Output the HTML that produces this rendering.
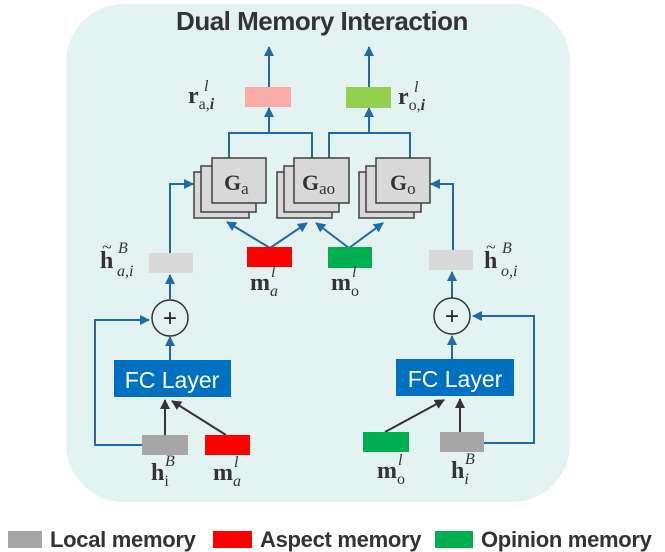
<!DOCTYPE html>
<html><head><meta charset="utf-8"><style>
html,body{margin:0;padding:0;background:#fff;}
svg{display:block;}
.m{font-family:"Liberation Serif",serif;fill:#333;}
.t{font-family:"Liberation Sans",sans-serif;font-weight:bold;fill:#333;}
</style></head><body>
<svg width="665" height="552" viewBox="0 0 665 552" xmlns="http://www.w3.org/2000/svg">
<defs>
<marker id="ab" markerWidth="10" markerHeight="10" refX="9" refY="5" orient="auto" markerUnits="userSpaceOnUse">
<path d="M0,0 L10,5 L0,10 z" fill="#1f6aa8"/></marker>
<marker id="ak" markerWidth="10" markerHeight="10" refX="9" refY="5" orient="auto" markerUnits="userSpaceOnUse">
<path d="M0,0 L10,5 L0,10 z" fill="#333"/></marker>
</defs>
<rect x="66" y="4" width="504" height="498" rx="58" fill="#e3f3f2"/>
<text x="322" y="30" text-anchor="middle" class="t" font-size="26" letter-spacing="-0.5">Dual Memory Interaction</text>

<g stroke="#1f6aa8" stroke-width="2" fill="none">
<line x1="269" y1="87" x2="269" y2="47" marker-end="url(#ab)"/>
<line x1="369" y1="87" x2="369" y2="47" marker-end="url(#ab)"/>
<polyline points="229,158 229,133 312,133 312,158"/>
<line x1="269" y1="133" x2="269" y2="108" marker-end="url(#ab)"/>
<polyline points="329,158 329,133 410,133 410,158"/>
<line x1="369" y1="133" x2="369" y2="108" marker-end="url(#ab)"/>
<line x1="270" y1="248" x2="227" y2="222" marker-end="url(#ab)"/>
<line x1="270" y1="248" x2="307" y2="223" marker-end="url(#ab)"/>
<line x1="349" y1="248" x2="316" y2="223" marker-end="url(#ab)"/>
<line x1="349" y1="248" x2="383" y2="223" marker-end="url(#ab)"/>
<polyline points="170,253 170,184 193,184" marker-end="url(#ab)"/>
<polyline points="453,250 453,184 431,184" marker-end="url(#ab)"/>
<line x1="170" y1="360" x2="170" y2="337" marker-end="url(#ab)"/>
<line x1="170" y1="299" x2="170" y2="275" marker-end="url(#ab)"/>
<line x1="452" y1="359" x2="452" y2="336" marker-end="url(#ab)"/>
<line x1="452" y1="298" x2="452" y2="272" marker-end="url(#ab)"/>
<polyline points="143,445 95,445 95,320 149,320" marker-end="url(#ab)"/>
<polyline points="484,443 534,443 534,316 473,316" marker-end="url(#ab)"/>
</g>

<rect x="245" y="87" width="46" height="20" fill="#f9aba6"/>
<rect x="346" y="87" width="45" height="21" fill="#92d050"/>

<g stroke="#404040" stroke-width="1.5" fill="#d9d9d9">
<rect x="194" y="172" width="55" height="46"/><rect x="201" y="166" width="55" height="46"/><rect x="212" y="158" width="54" height="45"/>
<rect x="277" y="172" width="55" height="46"/><rect x="284" y="166" width="55" height="46"/><rect x="294" y="158" width="55" height="45"/>
<rect x="359" y="172" width="55" height="46"/><rect x="366" y="166" width="55" height="46"/><rect x="376" y="158" width="54" height="45"/>
</g>
<text x="224" y="190" class="m" font-size="22" font-weight="bold">G<tspan font-size="17" font-weight="normal" dy="4">a</tspan></text>
<text x="302" y="190" class="m" font-size="22" font-weight="bold">G<tspan font-size="17" font-weight="normal" dy="4">ao</tspan></text>
<text x="390" y="190" class="m" font-size="22" font-weight="bold">G<tspan font-size="17" font-weight="normal" dy="4">o</tspan></text>

<rect x="247" y="247" width="45" height="20" fill="#ff0000"/>
<rect x="328" y="247" width="44" height="21" fill="#00b050"/>
<rect x="149" y="253" width="44" height="20" fill="#d9d9d9"/>
<rect x="429" y="250" width="44" height="20" fill="#d9d9d9"/>

<circle cx="170" cy="318" r="18" fill="none" stroke="#333" stroke-width="1.5"/>
<text x="170" y="326" text-anchor="middle" font-family="Liberation Sans,sans-serif" font-size="24" fill="#222">+</text>
<circle cx="452" cy="316" r="18" fill="none" stroke="#333" stroke-width="1.5"/>
<text x="452" y="324" text-anchor="middle" font-family="Liberation Sans,sans-serif" font-size="24" fill="#222">+</text>

<rect x="114" y="360" width="117" height="37" fill="#0070c0"/>
<text x="172" y="388" text-anchor="middle" font-family="Liberation Sans,sans-serif" font-size="23" fill="#fff">FC Layer</text>
<rect x="396" y="359" width="118" height="37" fill="#0070c0"/>
<text x="455" y="387" text-anchor="middle" font-family="Liberation Sans,sans-serif" font-size="23" fill="#fff">FC Layer</text>

<g stroke="#333" stroke-width="2">
<line x1="165" y1="435" x2="165" y2="400" marker-end="url(#ak)"/>
<line x1="226" y1="435" x2="172" y2="401" marker-end="url(#ak)"/>
<line x1="385" y1="432" x2="444" y2="400" marker-end="url(#ak)"/>
<line x1="460" y1="432" x2="460" y2="399" marker-end="url(#ak)"/>
</g>
<rect x="142" y="435" width="46" height="20" fill="#a6a6a6"/>
<rect x="205" y="435" width="45" height="20" fill="#ff0000"/>
<rect x="363" y="432" width="46" height="20" fill="#00b050"/>
<rect x="440" y="432" width="44" height="20" fill="#a6a6a6"/>

<g class="m">
<text x="188" y="103" font-size="24" font-weight="bold">r<tspan font-size="16" font-weight="normal" dy="6">a,</tspan><tspan font-size="16" font-style="italic">i</tspan></text>
<text x="204" y="91" font-size="16" font-style="italic">l</text>
<text x="398" y="104" font-size="24" font-weight="bold">r<tspan font-size="16" font-weight="normal" dy="6">o,</tspan><tspan font-size="16" font-style="italic">i</tspan></text>
<text x="414" y="92" font-size="16" font-style="italic">l</text>

<text x="100" y="268" font-size="24" font-weight="bold">h</text>
<text x="102" y="253" font-size="18">~</text>
<text x="118" y="253" font-size="16" font-style="italic">B</text>
<text x="117" y="276" font-size="16" font-style="italic">a,i</text>
<text x="484" y="268" font-size="24" font-weight="bold">h</text>
<text x="486" y="253" font-size="18">~</text>
<text x="502" y="253" font-size="16" font-style="italic">B</text>
<text x="501" y="276" font-size="16" font-style="italic">o,i</text>

<text x="250" y="290" font-size="24" font-weight="bold">m<tspan font-size="16" font-style="italic" font-weight="normal" dy="6">a</tspan></text>
<text x="271" y="277" font-size="16" font-style="italic">l</text>
<text x="331" y="290" font-size="24" font-weight="bold">m<tspan font-size="16" font-weight="normal" dy="6">o</tspan></text>
<text x="352" y="277" font-size="16" font-style="italic">l</text>

<text x="151" y="480" font-size="24" font-weight="bold">h<tspan font-size="16" font-weight="normal" dy="6">i</tspan></text>
<text x="165" y="466" font-size="16" font-style="italic">B</text>
<text x="213" y="480" font-size="24" font-weight="bold">m<tspan font-size="16" font-style="italic" font-weight="normal" dy="6">a</tspan></text>
<text x="234" y="467" font-size="16" font-style="italic">l</text>
<text x="377" y="478" font-size="24" font-weight="bold">m<tspan font-size="16" font-weight="normal" dy="6">o</tspan></text>
<text x="398" y="465" font-size="16" font-style="italic">l</text>
<text x="451" y="478" font-size="24" font-weight="bold">h<tspan font-size="16" font-style="italic" font-weight="normal" dy="6">i</tspan></text>
<text x="465" y="464" font-size="16" font-style="italic">B</text>
</g>

<rect x="8" y="531" width="34" height="17" fill="#a6a6a6"/>
<text x="50" y="547" class="t" font-size="22" letter-spacing="-0.3">Local memory</text>
<rect x="213" y="531" width="39" height="17" fill="#ff0000"/>
<text x="260" y="547" class="t" font-size="22" letter-spacing="-0.3">Aspect memory</text>
<rect x="435" y="531" width="38" height="17" fill="#00b050"/>
<text x="481" y="547" class="t" font-size="22" letter-spacing="-0.3">Opinion memory</text>
</svg>
</body></html>
